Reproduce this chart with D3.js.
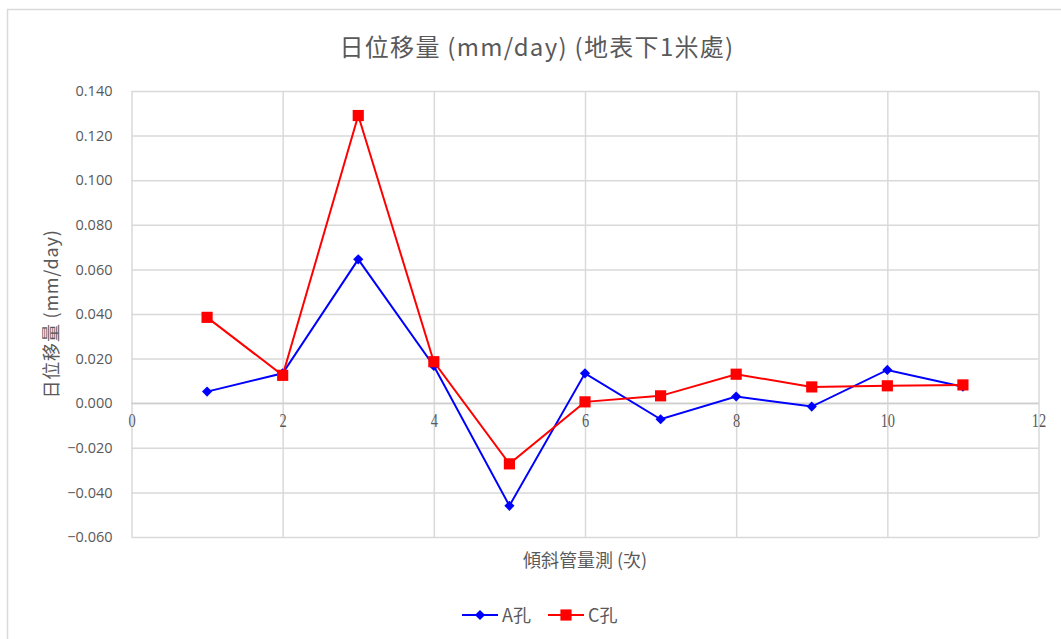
<!DOCTYPE html>
<html>
<head>
<meta charset="utf-8">
<script src="https://cdn.jsdelivr.net/npm/d3@7/dist/d3.min.js"></script>
<style>
  html, body { margin: 0; padding: 0; background: #fff; }
  svg { display: block; }
</style>
</head>
<body>
<svg id="chart" width="1061" height="639"></svg>
<script>
// Measurement index (傾斜管量測 次)
const runs = [1, 2, 3, 4, 5, 6, 7, 8, 9, 10, 11];
// Daily displacement (mm/day), 1 m below surface
const holeA = [0.0052, 0.0134, 0.0645, 0.0167, -0.0460, 0.0134, -0.0072, 0.0030, -0.0015, 0.0149, 0.0074];
const holeC = [0.0385, 0.0125, 0.1290, 0.0186, -0.0272, 0.0006, 0.0033, 0.0130, 0.0073, 0.0078, 0.0082];
const seriesNames = ["A孔", "C孔"];
const yTicks = [-0.06, -0.04, -0.02, 0, 0.02, 0.04, 0.06, 0.08, 0.10, 0.12, 0.14];
const xTicks = [0, 2, 4, 6, 8, 10, 12];

const svg = d3.select("#chart");
const cjk = "'Noto Sans CJK TC', 'Noto Sans', sans-serif";
const textColor = "#595959";
const gridColor = "#d9d9d9";

// Chart frame
svg.append("rect")
  .attr("x", 7.5).attr("y", 9.5)
  .attr("width", 1080).attr("height", 660)
  .attr("fill", "#fff")
  .attr("stroke", gridColor).attr("stroke-width", 1.5);

const plot = { left: 131.5, right: 1038.5, top: 91, bottom: 537 };

const x = d3.scaleLinear().domain([0, 12]).range([plot.left, plot.right]);
const y = d3.scaleLinear().domain([-0.06, 0.14]).range([plot.bottom, plot.top]);

// Horizontal gridlines and y tick labels
const yAxis = d3.axisLeft(y).tickValues(yTicks)
  .tickSize(-(plot.right - plot.left)).tickPadding(19)
  .tickFormat(d3.format(".3f"));
const gy = svg.append("g").attr("transform", `translate(${plot.left},0)`).call(yAxis);
gy.select(".domain").remove();
gy.selectAll(".tick line").attr("stroke", gridColor).attr("stroke-width", 1.5);
gy.selectAll(".tick text")
  .attr("fill", textColor)
  .style("font-family", "'Open Sans', 'Noto Sans', sans-serif")
  .style("font-size", "14.5px");

// Vertical gridlines
const xGrid = d3.axisBottom(x).tickValues(xTicks)
  .tickSize(-(plot.bottom - plot.top)).tickFormat("");
const gx = svg.append("g").attr("transform", `translate(0,${plot.bottom})`).call(xGrid);
gx.select(".domain").remove();
gx.selectAll(".tick line").attr("stroke", gridColor).attr("stroke-width", 1.5);

// X tick labels sit on the zero line
const xLabels = d3.axisBottom(x).tickValues(xTicks).tickSize(0).tickPadding(11)
  .tickFormat(d3.format("d"));
const gxl = svg.append("g").attr("transform", `translate(0,${y(0)})`).call(xLabels);
gxl.select(".domain").remove();
gxl.selectAll(".tick text")
  .attr("fill", textColor)
  .attr("transform", "scale(0.8,1)")
  .style("font-family", "'Liberation Serif', serif")
  .style("font-size", "18px");

// Zero line slightly stronger
svg.append("line")
  .attr("x1", plot.left).attr("x2", plot.right)
  .attr("y1", y(0)).attr("y2", y(0))
  .attr("stroke", "#cfcfcf").attr("stroke-width", 1.5);

// Series: hole A uses a square turned 45° (diamond), hole C a square
const series = [
  { name: seriesNames[0], values: holeA, color: "#0000ff", shape: d3.symbolSquare, size: 52, rotate: 45 },
  { name: seriesNames[1], values: holeC, color: "#ff0000", shape: d3.symbolSquare, size: 125, rotate: 0 }
];

const line = d3.line().x((d, i) => x(runs[i])).y(d => y(d));

series.forEach(s => {
  svg.append("path")
    .datum(s.values)
    .attr("fill", "none")
    .attr("stroke", s.color)
    .attr("stroke-width", 2)
    .attr("d", line);
  svg.append("g").selectAll("path")
    .data(s.values)
    .join("path")
    .attr("transform", (d, i) => `translate(${x(runs[i])},${y(d)}) rotate(${s.rotate})`)
    .attr("d", d3.symbol().type(s.shape).size(s.size))
    .attr("fill", s.color);
});

// Title
svg.append("text")
  .attr("x", 537).attr("y", 56)
  .attr("text-anchor", "middle")
  .attr("fill", textColor)
  .style("font-family", cjk)
  .style("font-size", "24px")
  .style("letter-spacing", "1.3px")
  .text("日位移量 (mm/day) (地表下1米處)");

// Axis titles
svg.append("text")
  .attr("x", (plot.left + plot.right) / 2).attr("y", 567)
  .attr("text-anchor", "middle")
  .attr("fill", textColor)
  .style("font-family", cjk)
  .style("font-size", "18px")
  .text("傾斜管量測 (次)");

svg.append("text")
  .attr("transform", `translate(58,${(plot.top + plot.bottom) / 2}) rotate(-90)`)
  .attr("text-anchor", "middle")
  .attr("fill", textColor)
  .style("font-family", cjk)
  .style("font-size", "18px")
  .style("letter-spacing", "0.8px")
  .text("日位移量 (mm/day)");

// Legend
const legend = svg.append("g").attr("transform", "translate(462,615)");
let offset = 0;
series.forEach(s => {
  const g = legend.append("g").attr("transform", `translate(${offset},0)`);
  g.append("line").attr("x1", 0).attr("x2", 36).attr("y1", 0).attr("y2", 0)
    .attr("stroke", s.color).attr("stroke-width", 2);
  g.append("path").attr("transform", `translate(18,0) rotate(${s.rotate})`)
    .attr("d", d3.symbol().type(s.shape).size(s.size))
    .attr("fill", s.color);
  g.append("text").attr("x", 40).attr("y", 6.5)
    .attr("fill", textColor)
    .style("font-family", cjk)
    .style("font-size", "18px")
    .text(s.name);
  offset += 86;
});
</script>
</body>
</html>
